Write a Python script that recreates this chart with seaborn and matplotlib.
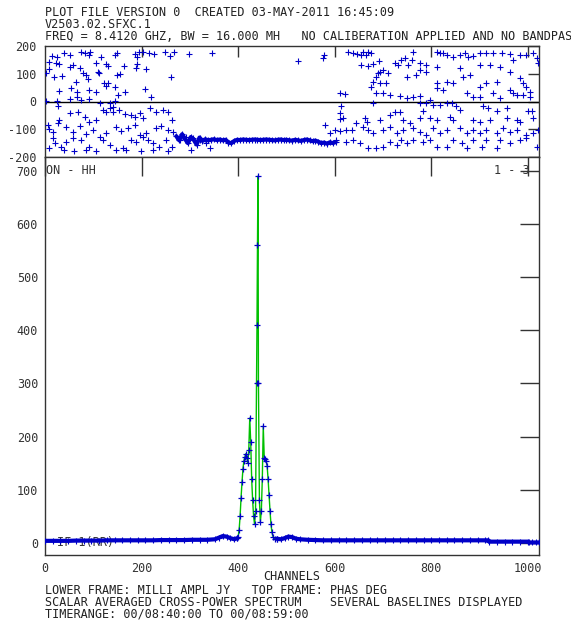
import matplotlib
matplotlib.use('Agg')
import matplotlib.pyplot as plt
import numpy as np
import pandas as pd
import seaborn as sns

# ---- phase (top frame): channel / degrees ----
phase_ch = [9, 14, 25, 23, 29, 39, 52, 75, 82, 92, 94, 116, 144, 149, 186, 190, 194, 203, 215, 226,
            248, 258, 268, 298, 345, 2, 8, 18, 36, 51, 59, 72, 78, 84, 90, 106, 110, 112, 126, 131,
            149, 156, 163, 189, 191, 210, 260, 30, 54, 66, 91, 92, 106, 113, 134, 144, 151, 165, 25, 27,
            220, 208, 123, 127, 130, 65, 75, 51, 67, 144,
            2, 120, 127, 134, 141, 30, 51, 68, 82, 92, 106, 141, 154, 165, 179, 186, 196, 203, 217, 230,
            244, 255, 262, 6, 9, 16, 27, 44, 58, 72, 85, 99, 113, 127, 148, 158, 172, 186, 196, 210,
            230, 241, 255, 265, 9, 20, 34, 44, 58, 75, 92, 106, 120, 134, 148, 161, 179, 189, 203, 213,
            224, 237, 251, 262, 279, 293, 306, 320, 334, 341, 16, 40, 61, 85, 168, 199, 224, 255, 303,
            524, 576, 578, 628, 638, 646, 655, 659, 664, 669, 676, 655, 669, 679, 692, 690, 693, 700, 711, 686,
            679, 693, 707, 676, 686, 700, 714, 724, 731, 738, 745, 752, 759, 762, 776, 790, 811, 818, 825, 832,
            845, 859, 870, 876, 887, 901, 914, 928, 946, 963, 984, 997, 1011, 1018, 1021, 749, 769, 790, 811, 832,
            845, 866, 880, 901, 914, 935, 970, 984, 990, 997, 1004, 610, 621, 735, 749, 762, 776, 797, 811, 825,
            873, 887, 901, 928, 942, 963, 977, 990, 1004, 776, 811, 859, 901, 921, 942, 963, 970,
            614, 679, 776, 783, 790, 804, 818, 832, 842, 852, 859, 907, 918, 935, 956, 1001, 1008, 610, 610, 617,
            662, 666, 693, 714, 724, 735, 742, 755, 776, 797, 811, 838, 845, 887, 901, 921, 956, 977, 984, 1011,
            579, 590, 600, 610, 624, 635, 645, 659, 669, 679, 700, 714, 728, 742, 762, 776, 790, 804, 818, 832,
            859, 873, 887, 901, 914, 935, 949, 963, 977, 997, 1011, 1021, 603, 624, 638, 652, 669, 686, 700, 714,
            728, 738, 749, 762, 783, 797, 811, 832, 845, 863, 873, 887, 904, 914, 935, 942, 963, 984, 997, 1018]
phase_deg = [143, 165, 159, 140, 135, 173, 167, 179, 173, 166, 179, 159, 167, 173, 171, 159, 179, 177, 173, 171,
             179, 164, 178, 171, 176, 103, 116, 89, 92, 125, 130, 119, 101, 97, 82, 137, 106, 101, 135, 129,
             94, 99, 129, 119, 135, 118, 89, 39, 50, 35, 41, 9, 35, -4, -4, 3, 23, 33, 3, -15,
             17, 44, 65, 56, 68, 71, 5, 9, 17, 53,
             3, -31, -37, -25, -19, -67, -43, -37, -55, -73, -67, -37, -31, -45, -49, -55, -43, -61, -25, -37,
             -31, -37, -67, -85, -100, -109, -79, -93, -109, -88, -117, -103, -127, -115, -93, -105, -97, -85, -121, -115,
             -97, -88, -103, -109, -169, -151, -163, -145, -133, -139, -163, -178, -139, -157, -175, -169, -139, -145, -127, -139,
             -151, -163, -139, -163, -139, -127, -133, -139, -151, -169, -133, -175, -178, -175, -175, -178, -175, -178, -175,
             146, 155, 167, 179, 173, 171, 167, 178, 167, 179, 176, 131, 128, 135, 147, 101, 107, 113, 101, 89,
             71, 68, 68, 53, 29, 29, 23, 137, 131, 149, 155, 131, 149, 179, 137, 131, 179, 173, 176, 167,
             161, 167, 173, 161, 164, 173, 176, 176, 173, 171, 167, 167, 173, 155, 137, 89, 95, 107, 65, 71,
             65, 89, 95, 53, 65, 71, 29, 83, 65, 53, 35, 32, 27, 20, 11, 17, 20, 5, 47, 41,
             29, 15, 17, 29, 11, 41, 23, 23, 17, 113, 125, 119, 131, 131, 125, 107, 149,
             -18, -6, -6, -34, -6, -12, -12, -4, -6, -18, -30, -18, -24, -36, -24, -36, -36, -42, -64, -61,
             -61, -73, -67, -49, -37, -37, -67, -79, -61, -61, -67, -55, -67, -67, -73, -67, -61, -67, -73, -61,
             -85, -115, -103, -105, -103, -103, -79, -91, -103, -115, -103, -91, -115, -103, -97, -109, -121, -97, -115, -103,
             -97, -115, -103, -115, -103, -115, -97, -109, -103, -121, -115, -103, -139, -145, -139, -151, -169, -169, -163, -145,
             -157, -139, -151, -139, -145, -139, -163, -163, -139, -151, -169, -139, -163, -139, -169, -139, -151, -139, -133, -163]

# tight phase band under the line
band_ch = [272, 278, 284, 290, 296, 302, 308, 314, 320, 326, 332, 338, 344, 350, 356, 362, 368, 374, 380, 386,
           392, 398, 404, 410, 416, 422, 428, 434, 440, 446, 452, 458, 464, 470, 476, 482, 488, 494, 500, 506,
           512, 518, 524, 530, 536, 542, 548, 554, 560, 566, 572, 578, 584, 590, 596, 602]
band_deg = [-125, -140, -118, -135, -150, -128, -138, -155, -130, -142, -136, -140, -138, -136, -139, -137, -140, -138, -148, -150,
            -142, -138, -139, -137, -138, -139, -138, -137, -138, -139, -138, -137, -138, -139, -140, -138, -137, -139, -138, -140,
            -141, -138, -140, -142, -139, -137, -140, -143, -141, -145, -150, -148, -152, -147, -150, -146]

# ---- amplitude (lower frame), milli Jy ----
pre_ch = [0, 16, 32, 48, 64, 80, 96, 112, 128, 144, 160, 176, 192, 208, 224, 240, 256, 272, 288, 304,
          320, 336, 352, 360, 368, 376, 384, 392, 398]
pre_amp = [4, 4, 4, 4, 4.5, 4.5, 4.5, 4.5, 5, 5, 5, 5, 5, 5, 5, 5.5, 5.5, 5.5, 5.5, 6,
           6, 6, 7, 10, 13, 12, 9, 7, 9]
peak_ch = [398, 400, 402, 404, 406, 408, 410, 412, 414, 416, 418, 420, 422, 424, 426, 428, 430, 432, 434, 436,
           438, 439, 440, 441, 442, 444, 446, 448, 450, 452, 454, 456, 458, 460, 462, 464, 466, 468, 470, 472,
           476, 480]
peak_amp = [9, 12, 25, 50, 85, 115, 140, 155, 162, 168, 160, 150, 175, 235, 190, 120, 80, 50, 35, 60,
            300, 410, 560, 690, 300, 80, 40, 60, 120, 220, 160, 158, 155, 145, 120, 90, 60, 35, 20, 12,
            8, 8]
post_ch = [480, 488, 496, 504, 512, 520, 528, 544, 560, 576, 592, 608, 624, 640, 656, 672, 688, 704, 720, 736,
           752, 768, 784, 800, 816, 832, 848, 864, 880, 896, 912, 918, 920, 936, 952, 968, 984, 1000, 1002, 1008,
           1016, 1023]
post_amp = [8, 7, 9, 12, 11, 8, 7, 6, 5.5, 5, 5, 5, 5, 5, 5, 5, 5, 5, 5, 5,
            5, 5, 5, 5, 5, 5, 5, 5, 5, 5, 5, 5, 2.5, 2.5, 2.5, 2.5, 2.5, 2.5, 1, 1,
            1, 1]

x_ticks = [0, 200, 400, 600, 800, 1000]
top_yticks = [-200, -100, 0, 100, 200]
low_yticks = [0, 100, 200, 300, 400, 500, 600, 700]

header = ['PLOT FILE VERSION 0  CREATED 03-MAY-2011 16:45:09',
          'V2503.02.SFXC.1',
          'FREQ = 8.4120 GHZ, BW = 16.000 MH   NO CALIBERATION APPLIED AND NO BANDPASS']
footer = ['LOWER FRAME: MILLI AMPL JY   TOP FRAME: PHAS DEG',
          'SCALAR AVERAGED CROSS-POWER SPECTRUM    SEVERAL BASELINES DISPLAYED',
          'TIMERANGE: 00/08:40:00 TO 00/08:59:00']

BLUE = '#0000c8'
GREEN = '#00c000'
FS = 8.45

sns.set_style('white')
plt.rcParams['font.family'] = ['DejaVu Sans Mono']
plt.rcParams['text.color'] = '#222222'

W, H = 571, 623
fig = plt.figure(figsize=(W / 100, H / 100), dpi=100)
ax_top = fig.add_axes([45 / W, 1 - 157 / H, 494 / W, 111 / H])
ax_low = fig.add_axes([45 / W, 1 - 555 / H, 494 / W, 398 / H])

# top frame: phases
sns.scatterplot(x=phase_ch, y=phase_deg, ax=ax_top, marker='+', s=16, linewidth=0.8,
                color=BLUE, legend=False, zorder=3)
sns.lineplot(x=band_ch, y=band_deg, ax=ax_top, color=BLUE, linewidth=3, estimator=None,
             sort=False, zorder=3)
sns.scatterplot(x=band_ch, y=band_deg, ax=ax_top, marker='+', s=16, linewidth=0.8,
                color=BLUE, legend=False, zorder=3)
ax_top.axhline(0, color='black', linewidth=1, zorder=2)
ax_top.set_xlim(0, 1023)
ax_top.set_ylim(-200, 200)
ax_top.set_xticks(x_ticks[1:])
ax_top.set_xticklabels([])
ax_top.set_yticks(top_yticks)
ax_top.set_yticklabels([str(v) for v in top_yticks])
ax_top.yaxis.set_minor_locator(matplotlib.ticker.NullLocator())
ax_top.tick_params(axis='both', direction='in', length=8, width=1, color='#333333',
                   top=True, right=True, labelsize=FS, pad=6, labelcolor='#333333')

# lower frame: amplitudes
sns.lineplot(x=peak_ch, y=peak_amp, ax=ax_low, color=GREEN, linewidth=1, estimator=None,
             sort=False, zorder=3)
for cx, cy in [(pre_ch, pre_amp), (post_ch, post_amp)]:
    sns.lineplot(x=cx, y=cy, ax=ax_low, color=BLUE, linewidth=3, estimator=None, sort=False, zorder=4)
    sns.scatterplot(x=cx, y=cy, ax=ax_low, marker='+', s=16, linewidth=0.8, color=BLUE,
                    legend=False, zorder=4)
sns.scatterplot(x=peak_ch, y=peak_amp, ax=ax_low, marker='+', s=18, linewidth=0.9, color=BLUE,
                legend=False, zorder=4)
ax_low.set_xlim(0, 1023)
ax_low.set_ylim(-22.6, 726)
ax_low.set_xticks(x_ticks)
ax_low.set_xticklabels([str(v) for v in x_ticks])
ax_low.set_yticks(low_yticks)
ax_low.set_yticklabels([str(v) for v in low_yticks])
ax_low.tick_params(axis='both', direction='in', length=14, width=1, color='#333333',
                   top=True, right=True, labelsize=FS, pad=5, labelcolor='#333333')
ax_low.set_xlabel('')
ax_low.set_ylabel('')

for a in (ax_top, ax_low):
    for sp in a.spines.values():
        sp.set_color('#333333')
        sp.set_linewidth(1)
    a.set_facecolor('white')

ax_low.text(2, 700, 'ON - HH', fontsize=FS, va='center', ha='left', color='#333333')
ax_low.text(1003, 700, '1 - 3', fontsize=FS, va='center', ha='right', color='#333333')
ax_low.text(24, 1, 'IF 1(RR)', fontsize=FS, va='center', ha='left', color='#333333', zorder=1)

fig.text(292 / W, 1 - 577 / H, 'CHANNELS', fontsize=FS, va='center', ha='center', color='#222222')
for i, line in enumerate(header):
    fig.text(45 / W, 1 - (12 + 12.3 * i) / H, line, fontsize=FS, va='center', ha='left',
             color='#222222')
for i, line in enumerate(footer):
    fig.text(45 / W, 1 - (590 + 12.2 * i) / H, line, fontsize=FS, va='center', ha='left',
             color='#222222')

fig.savefig('out.png', dpi=100)
plt.close(fig)
